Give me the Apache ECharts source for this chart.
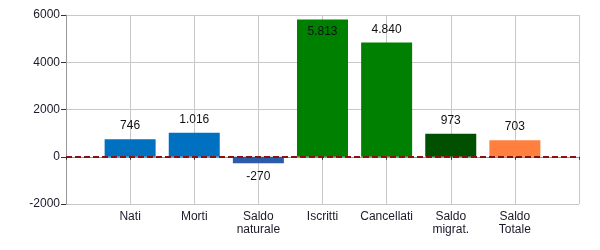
<!DOCTYPE html>
<html>
<head>
<meta charset="utf-8">
<script src="https://cdn.jsdelivr.net/npm/echarts@6/dist/echarts.min.js"></script>
<style>html,body{margin:0;padding:0;background:#fff}#c{width:600px;height:250px}</style>
</head>
<body>
<div id="c"></div>
<script>
// Data
const categories = ['', 'Nati', 'Morti', 'Saldo\nnaturale', 'Iscritti', 'Cancellati', 'Saldo\nmigrat.', 'Saldo\nTotale', ''];
const values = [null, 746, 1016, -270, 5813, 4840, 973, 703, null];
const yTicks = { min: -2000, max: 6000, interval: 2000 };

// Styles
const barColors = [null, '#0070C0', '#0070C0', '#2A5CAA', '#008000', '#008000', '#005000', '#FF7F3F', null];
const font = 'Liberation Sans, Arial, sans-serif';

function fmt(v) {
  const s = Math.abs(v).toString().replace(/\B(?=(\d{3})+(?!\d))/g, '.');
  return (v < 0 ? '-' : '') + s;
}

const seriesData = values.map((v, i) => {
  if (v === null) return { value: null };
  const item = { value: v, itemStyle: { color: barColors[i] } };
  if (v > yTicks.max * 0.9) item.label = { position: 'insideTop', distance: 6 };
  else if (v < 0) item.label = { position: 'bottom', distance: 8 };
  return item;
});

const chart = echarts.init(document.getElementById('c'), null, { renderer: 'canvas' });
chart.setOption({
  animation: false,
  grid: { left: 66, right: 21, top: 15, bottom: 46, containLabel: false },
  xAxis: {
    type: 'category',
    data: categories,
    boundaryGap: false,
    axisLine: { show: true, lineStyle: { color: '#999', width: 1 } },
    axisTick: { show: true, length: 3, lineStyle: { color: '#333' } },
    axisLabel: { color: '#1a1a2a', fontFamily: font, fontSize: 12, margin: 6, lineHeight: 13, interval: 0 },
    splitLine: { show: true, lineStyle: { color: '#c8c8c8', width: 1 } }
  },
  yAxis: {
    type: 'value',
    min: yTicks.min, max: yTicks.max, interval: yTicks.interval,
    axisLine: { show: true, lineStyle: { color: '#999', width: 1 } },
    axisTick: { show: true, length: 5, lineStyle: { color: '#333' } },
    axisLabel: { color: '#1a1a2a', fontFamily: font, fontSize: 12, margin: 6, formatter: v => String(v) },
    splitLine: { show: true, lineStyle: { color: '#c8c8c8', width: 1 } }
  },
  series: [{
    type: 'bar',
    data: seriesData,
    barWidth: 51,
    label: {
      show: true, position: 'top', distance: 7,
      color: '#111', fontFamily: font, fontSize: 12,
      formatter: p => fmt(p.value)
    },
    markLine: {
      silent: true, symbol: 'none',
      label: { show: false },
      lineStyle: { color: '#8B1010', width: 2, type: [6, 3] },
      data: [{ yAxis: 0 }]
    }
  }]
});
</script>
</body>
</html>
